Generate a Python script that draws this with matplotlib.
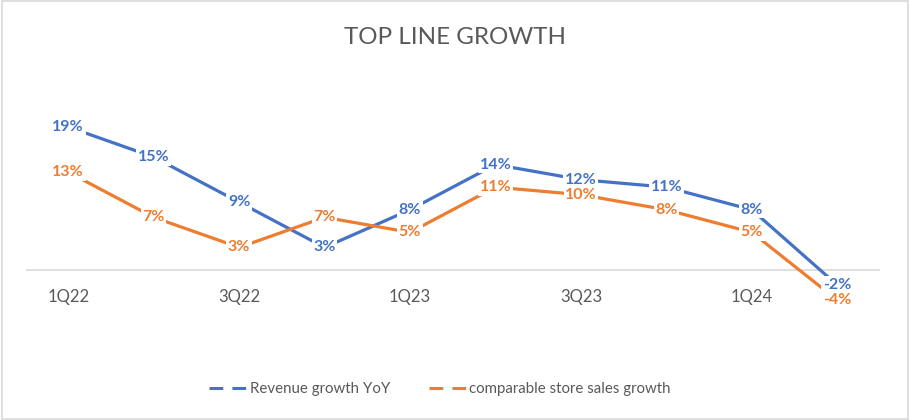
import matplotlib
matplotlib.use("Agg")
import matplotlib.pyplot as plt
from matplotlib.lines import Line2D
from matplotlib.patches import Rectangle

plt.rcParams['font.family'] = ['Lato', 'DejaVu Sans']

quarters = ["1Q22", "2Q22", "3Q22", "4Q22", "1Q23", "2Q23", "3Q23", "4Q23", "1Q24", "2Q24"]
revenue_growth = [19, 15, 9, 3, 8, 14, 12, 11, 8, -2]
comp_sales_growth = [13, 7, 3, 7, 5, 11, 10, 8, 5, -4]
series_names = ["Revenue growth YoY", "comparable store sales growth"]

BLUE = "#4472C4"
ORANGE = "#ED7D31"
GRAY = "#595959"

fig = plt.figure(figsize=(9.1, 4.2), dpi=100)
fig.patches.append(Rectangle((0.002, 0.003), 0.996, 0.994, transform=fig.transFigure,
                             fill=False, edgecolor="#D9D9D9", linewidth=1.2))

W, H = 910, 420
left_px, right_px = 25.5, 880
top_px, bot_px = 80, 271
zero_px = 270
ax = fig.add_axes([left_px / W, 1 - bot_px / H, (right_px - left_px) / W, (bot_px - top_px) / H])

x = list(range(len(quarters)))
ppp = 7.53
ax.set_xlim(-0.5, len(quarters) - 0.5)
ax.set_ylim(-(bot_px - zero_px) / ppp, (zero_px - top_px) / ppp)

ax.plot(x, revenue_growth, color=BLUE, linewidth=2.3, solid_capstyle='butt', zorder=2, clip_on=False)
ax.plot(x, comp_sales_growth, color=ORANGE, linewidth=2.3, solid_capstyle='butt', zorder=2, clip_on=False)
ax.axhline(0, color="#D9D9D9", linewidth=1.2, zorder=1)

for xi, v in zip(x, revenue_growth):
    ax.text(xi, v, f"{v}%", color=BLUE, fontsize=11.5, fontweight='bold', ha='center', va='center',
            zorder=4, clip_on=False, bbox=dict(facecolor='white', edgecolor='none', pad=1.2))
for xi, v in zip(x, comp_sales_growth):
    ax.text(xi, v, f"{v}%", color=ORANGE, fontsize=11.5, fontweight='bold', ha='center', va='center',
            zorder=4, clip_on=False, bbox=dict(facecolor='white', edgecolor='none', pad=1.2))

for s in ax.spines.values():
    s.set_visible(False)
ax.set_yticks([])
ax.set_xticks(x[::2])
ax.set_xticklabels(quarters[::2], color=GRAY, fontsize=12)
ax.tick_params(axis='x', length=0, pad=13)

fig.text(0.5, 1 - 38 / H, "TOP LINE GROWTH", ha='center', va='center', fontsize=17.4, color=GRAY)

handles = [Line2D([0], [0], color=BLUE, linewidth=2.2, linestyle=(0, (4.5, 3))),
           Line2D([0], [0], color=ORANGE, linewidth=2.2, linestyle=(0, (4.5, 3)))]
fig.legend(handles, series_names, loc='center', bbox_to_anchor=(440 / W, 1 - 389 / H), ncol=2,
           frameon=False, fontsize=10.8, labelcolor=GRAY, handlelength=2.6, handletextpad=0.1,
           columnspacing=2.6)

fig.savefig("out.png", dpi=100)
